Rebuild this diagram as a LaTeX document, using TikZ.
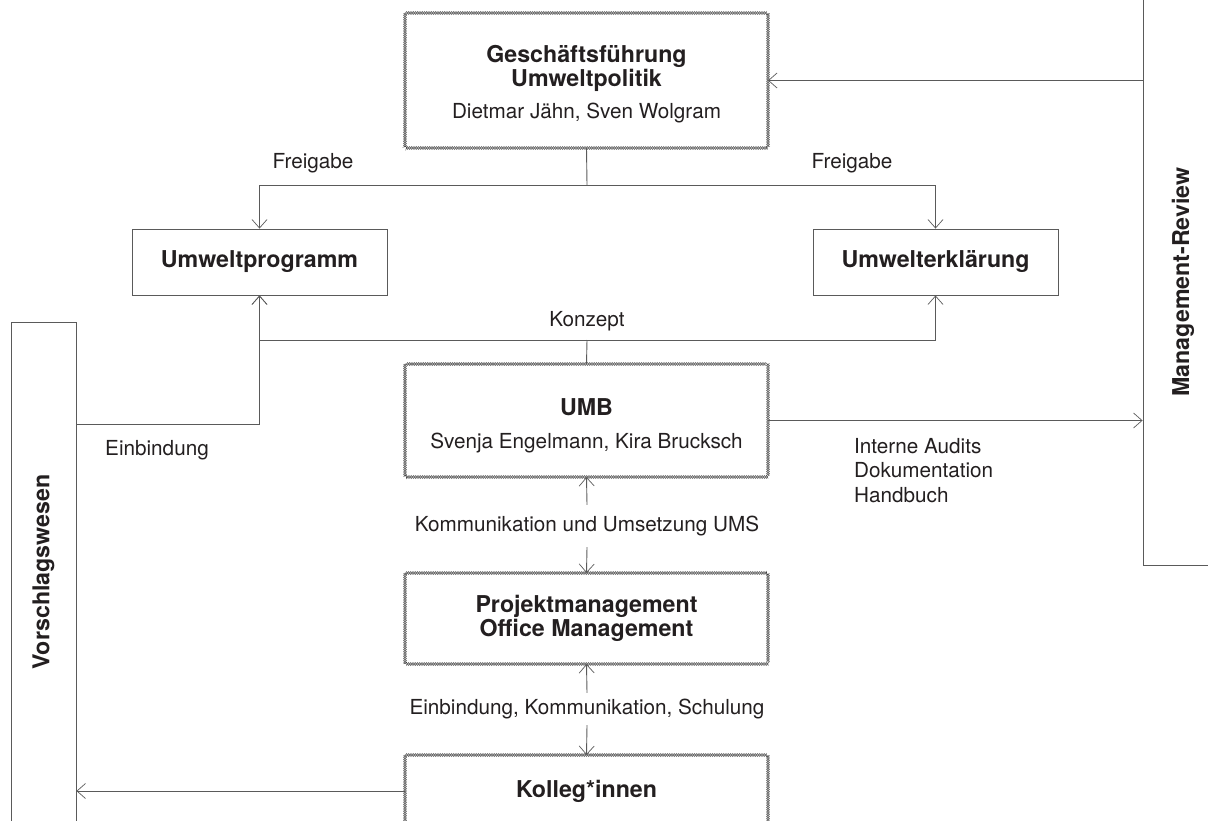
\documentclass[tikz,border=0pt]{standalone}
\usepackage{fontspec}
\setmainfont{TeX Gyre Heros}
\usetikzlibrary{arrows.meta,decorations.pathmorphing}
\definecolor{ln}{HTML}{5A5A5A}
\definecolor{tx}{HTML}{231F20}
\definecolor{zc}{HTML}{3A3A3A}
\newcommand\wavybox[1]{%
  \draw[zz] (#1.north west) rectangle (#1.south east);
  \draw[zz,decoration={mirror}] (#1.north west) rectangle (#1.south east);}
\begin{document}
\begin{tikzpicture}[x=1pt,y=-1pt,
  arr/.style={draw=ln, line width=0.9pt, -{Straight Barb[length=8.5pt,width=15pt,line width=0.7pt]}},
  conn/.style={draw=ln, line width=0.9pt},
  zz/.style={draw=zc, line width=0.35pt, decorate, decoration={zigzag, amplitude=1.5pt, segment length=3.6pt}},
  plainbox/.style={draw=ln, line width=0.9pt, inner sep=0pt},
  bare/.style={inner sep=0pt, outer sep=0pt},
  reg/.style={text=tx, font=\fontsize{20.7}{24.5}\selectfont, inner sep=0pt},
  bld/.style={text=tx, font=\fontsize{23.2}{23.5}\selectfont\bfseries, inner sep=0pt, align=center},
]
\useasboundingbox (0,0) rectangle (1208,821);

% ---------- boxes ----------
\node[bare, minimum width=363pt, minimum height=135pt] (gf) at (586.5,80.5) {};
\node[plainbox, minimum width=255pt, minimum height=66pt] (up) at (259.5,262) {};
\node[plainbox, minimum width=245pt, minimum height=66pt] (ue) at (935.5,262) {};
\node[bare, minimum width=363pt, minimum height=113pt] (umb) at (586.5,420.5) {};
\node[bare, minimum width=363pt, minimum height=91pt] (pm) at (586.5,618.5) {};
\node[bare, minimum width=363pt, minimum height=72pt] (kol) at (586.5,791) {};
\node[plainbox, minimum width=80pt, minimum height=577pt] (mr) at (1183,276.5) {};
\node[plainbox, minimum width=65pt, minimum height=510pt] (vw) at (43.5,577) {};

\wavybox{gf}
\wavybox{umb}
\wavybox{pm}
\wavybox{kol}

% ---------- texts ----------
\node[bld] (gft) at (586.5,68.5) {Geschäftsführung\\Umweltpolitik};
\node[reg] (gfn) at (586.5,113) {Dietmar Jähn, Sven Wolgram};
\node[bld] (upt) at (up) {Umweltprogramm};
\node[bld] (uet) at (ue) {Umwelterklärung};
\node[bld] (umbt) at (586.5,407) {UMB};
\node[reg] (umbn) at (586.5,443) {Svenja Engelmann, Kira Brucksch};
\node[bld] (pmt) at (586.5,618.5) {Projektmanagement\\Office Management};
\node[bld] (kolt) at (586.5,791) {Kolleg*innen};
\node[bld, rotate=90] (mrt) at (1183,282) {Management-Review};
\node[bld, rotate=90] (vwt) at (43.5,572) {Vorschlagswesen};

\node[reg] (fg1) at (313,163) {Freigabe};
\node[reg] (fg2) at (852,163) {Freigabe};
\node[reg] (kz) at (587,321) {Konzept};
\node[reg] (eb) at (157,450) {Einbindung};
\node[reg, anchor=north west, align=left] (ia) at (854,438) {Interne Audits\\Dokumentation\\Handbuch};
\node[reg, minimum height=42pt] (l1) at (587,526) {Kommunikation und Umsetzung UMS};
\node[reg, minimum height=32pt] (l2) at (587,709) {Einbindung, Kommunikation, Schulung};

% ---------- connectors ----------
\coordinate (f1) at (587,185);
\coordinate (f2) at (587,340);
\coordinate (e1) at (76,424);
\draw[conn] (gf.south) -- (f1);
\draw[arr] (f1) -| (up.north);
\draw[arr] (f1) -| (ue.north);
\draw[conn] (umb.north) -- (f2);
\draw[arr] (f2) -| (up.south);
\draw[arr] (f2) -| (ue.south);
\draw[arr] (e1) -| (up.south);
\draw[arr] (umb.east) -- (umb.east -| mr.west);
\draw[arr] (mr.west |- gf.east) -- (gf.east);
\draw[arr] (l1.north) -- (umb.south);
\draw[arr] (l1.south) -- (pm.north);
\draw[arr] (l2.north) -- (pm.south);
\draw[arr] (l2.south) -- (kol.north);
\draw[arr] (kol.west) -- (kol.west -| vw.east);
\end{tikzpicture}
\end{document}
